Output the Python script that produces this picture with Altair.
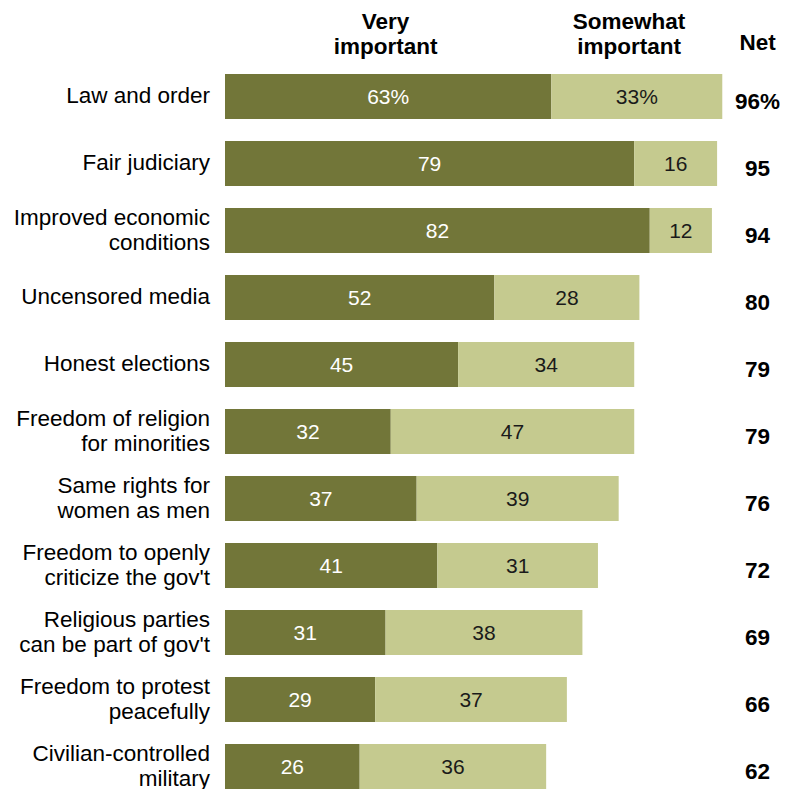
import altair as alt
import pandas as pd

categories = [
    "Law and order",
    "Fair judiciary",
    "Improved economic|conditions",
    "Uncensored media ",
    "Honest elections",
    "Freedom of religion|for minorities",
    "Same rights for|women as men",
    "Freedom to openly|criticize the gov't",
    "Religious parties|can be part of gov't",
    "Freedom to protest|peacefully",
    "Civilian-controlled|military",
]
very = [63, 79, 82, 52, 45, 32, 37, 41, 31, 29, 26]
somewhat = [33, 16, 12, 28, 34, 47, 39, 31, 38, 37, 36]
net = [96, 95, 94, 80, 79, 79, 76, 72, 69, 66, 62]

headers = ["Very|important", "Somewhat|important"]
header_x = [31, 78]
net_header = "Net"
net_x = 102.8

DARK = "#727639"
LIGHT = "#c5ca8f"

rows = []
for i, c in enumerate(categories):
    suffix = "%" if i == 0 else ""
    rows.append(dict(cat=c, seg="Very important", start=0, end=very[i],
                     mid=very[i] / 2, label=f"{very[i]}{suffix}"))
    rows.append(dict(cat=c, seg="Somewhat important", start=very[i],
                     end=very[i] + somewhat[i], mid=very[i] + somewhat[i] / 2,
                     label=f"{somewhat[i]}{suffix}"))
df = pd.DataFrame(rows)
net_df = pd.DataFrame(dict(cat=categories,
                           label=[f"{n}%" if i == 0 else str(n) for i, n in enumerate(net)],
                           x=[net_x] * len(net)))
cat_df = pd.DataFrame(dict(cat=categories, two=["|" in c for c in categories]))
hdr_df = pd.DataFrame(dict(text=headers, x=header_x))
net_hdr_df = pd.DataFrame(dict(text=[net_header], x=[net_x]))

FONT = "Liberation Sans"
xs = alt.Scale(domain=[0, 100], nice=False, zero=True)
ys = alt.Scale(domain=categories, paddingInner=22 / 67, paddingOuter=0)
X = lambda f: alt.X(f, scale=xs, axis=None)
Y = alt.Y("cat:N", scale=ys, sort=categories, axis=None)

bars = alt.Chart(df).mark_bar(size=45).encode(
    x=X("start:Q"),
    x2="end:Q",
    y=Y,
    color=alt.Color("seg:N", scale=alt.Scale(domain=["Very important", "Somewhat important"],
                                             range=[DARK, LIGHT]), legend=None),
)

txt_dark = alt.Chart(df).transform_filter("datum.seg == 'Very important'").mark_text(
    font=FONT, fontSize=21, color="#ffffff", baseline="middle", align="center", dy=1
).encode(x=X("mid:Q"), y=Y, text="label:N")

txt_light = alt.Chart(df).transform_filter("datum.seg == 'Somewhat important'").mark_text(
    font=FONT, fontSize=21, color="#1a1a1a", baseline="middle", align="center", dy=1
).encode(x=X("mid:Q"), y=Y, text="label:N")

net_txt = alt.Chart(net_df).mark_text(
    font=FONT, fontSize=22.5, fontWeight="bold", color="#000", baseline="middle", align="center", dy=5
).encode(x=X("x:Q"), y=Y, text="label:N")

cat_one = alt.Chart(cat_df).transform_filter("!datum.two").mark_text(
    font=FONT, fontSize=22.5, color="#000", baseline="middle", align="right", dy=-1
).encode(x=alt.value(-15), y=Y, text="cat:N")

cat_two = alt.Chart(cat_df).transform_filter("datum.two").mark_text(
    font=FONT, fontSize=22.5, color="#000", baseline="middle", align="right",
    lineBreak="|", lineHeight=25, dy=-13
).encode(x=alt.value(-15), y=Y, text="cat:N")

hdr = alt.Chart(hdr_df).mark_text(
    font=FONT, fontSize=22.5, fontWeight="bold", color="#000", baseline="middle", align="center",
    lineBreak="|", lineHeight=25
).encode(x=X("x:Q"), y=alt.value(-52), text="text:N")

net_hdr = alt.Chart(net_hdr_df).mark_text(
    font=FONT, fontSize=22.5, fontWeight="bold", color="#000", baseline="middle", align="center"
).encode(x=X("x:Q"), y=alt.value(-31), text="text:N")

chart = alt.layer(bars, txt_dark, txt_light, net_txt, cat_one, cat_two, hdr, net_hdr).properties(
    width=518, height=715,
    autosize=alt.AutoSizeParams(type="none"),
    padding={"left": 217, "top": 66, "right": 37, "bottom": 0},
).configure(background="white").configure_view(stroke=None)

chart.save("out.html", embed_options={"renderer": "svg", "actions": False})
